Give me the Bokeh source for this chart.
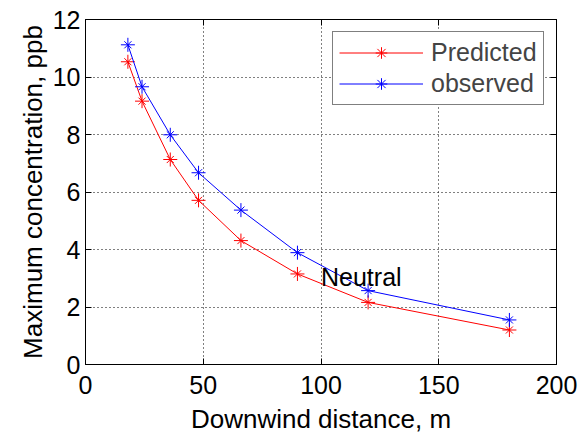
from bokeh.plotting import figure
from bokeh.models import Range1d, LinearAxis, Legend, LegendItem, FixedTicker, Label
from bokeh.embed import file_html
from bokeh.resources import INLINE

distance = [18, 24, 36, 48, 66, 90, 120, 180]
predicted = [10.53, 9.16, 7.13, 5.71, 4.31, 3.15, 2.16, 1.20]
observed = [11.12, 9.66, 7.99, 6.67, 5.37, 3.89, 2.57, 1.55]
x_ticks = [0, 50, 100, 150, 200]
y_ticks = [0, 2, 4, 6, 8, 10, 12]
annotation = "Neutral"

FONT = "Liberation Sans"

p = figure(width=580, height=436, output_backend="svg", toolbar_location=None,
           x_range=Range1d(0, 200), y_range=Range1d(0, 12),
           min_border_left=85, min_border_right=24, min_border_top=19, min_border_bottom=67,
           x_axis_label="Downwind distance, m", y_axis_label="Maximum concentration, ppb")
p.outline_line_color = "black"
p.background_fill_color = "white"
p.border_fill_color = "white"

for ax in (p.xaxis[0], p.yaxis[0]):
    ax.major_tick_in = 6
    ax.major_tick_out = 0
    ax.minor_tick_line_color = None
    ax.axis_line_color = "black"
    ax.major_tick_line_color = "black"
    ax.major_label_text_font = FONT
    ax.major_label_text_font_size = "25px"
    ax.major_label_text_color = "black"
    ax.axis_label_text_font = FONT
    ax.axis_label_text_font_size = "26px"
    ax.axis_label_text_font_style = "normal"
    ax.axis_label_text_color = "black"

p.xaxis[0].ticker = FixedTicker(ticks=x_ticks)
p.yaxis[0].ticker = FixedTicker(ticks=y_ticks)
p.xaxis[0].major_label_standoff = 11
p.xaxis[0].axis_label_standoff = 7
p.yaxis[0].major_label_standoff = 5
p.yaxis[0].axis_label_standoff = 2

top = LinearAxis(ticker=FixedTicker(ticks=x_ticks), major_label_text_font_size="0px",
                 major_tick_in=6, major_tick_out=0, minor_tick_line_color=None,
                 axis_line_color="black", major_label_standoff=0)
right = LinearAxis(ticker=FixedTicker(ticks=y_ticks), major_label_text_font_size="0px",
                   major_tick_in=6, major_tick_out=0, minor_tick_line_color=None,
                   axis_line_color="black", major_label_standoff=0)
top.major_label_overrides = {t: "" for t in x_ticks}
right.major_label_overrides = {t: "" for t in y_ticks}
p.add_layout(top, "above")
p.add_layout(right, "right")

p.xgrid.ticker = FixedTicker(ticks=x_ticks)
p.ygrid.ticker = FixedTicker(ticks=y_ticks)
for g in (p.xgrid[0], p.ygrid[0]):
    g.grid_line_color = "black"
    g.grid_line_dash = "1 3"
    g.grid_line_width = 1

def series(y, color):
    l = p.line(distance, y, line_color=color, line_width=1)
    c = p.scatter(distance, y, marker="cross", size=14, line_color=color, line_width=1)
    xx = p.scatter(distance, y, marker="x", size=10, line_color=color, line_width=1)
    return [l, c, xx]

r_pred = series(predicted, "#ff0000")
r_obs = series(observed, "#0000ff")

p.add_layout(Label(x=100, y=3.05, text=annotation, text_font=FONT, text_font_size="25px",
                   text_color="black", text_baseline="alphabetic"))

legend = Legend(items=[LegendItem(label="Predicted", renderers=r_pred),
                       LegendItem(label="observed", renderers=r_obs)],
                location=(247, 259), padding=6, spacing=2, margin=0,
                glyph_width=84, glyph_height=29, label_height=29, label_standoff=8,
                label_text_font=FONT, label_text_font_size="25px",
                border_line_color="black", border_line_width=1,
                background_fill_alpha=1)
p.add_layout(legend)

open("out.html", "w").write(file_html(p, INLINE))
